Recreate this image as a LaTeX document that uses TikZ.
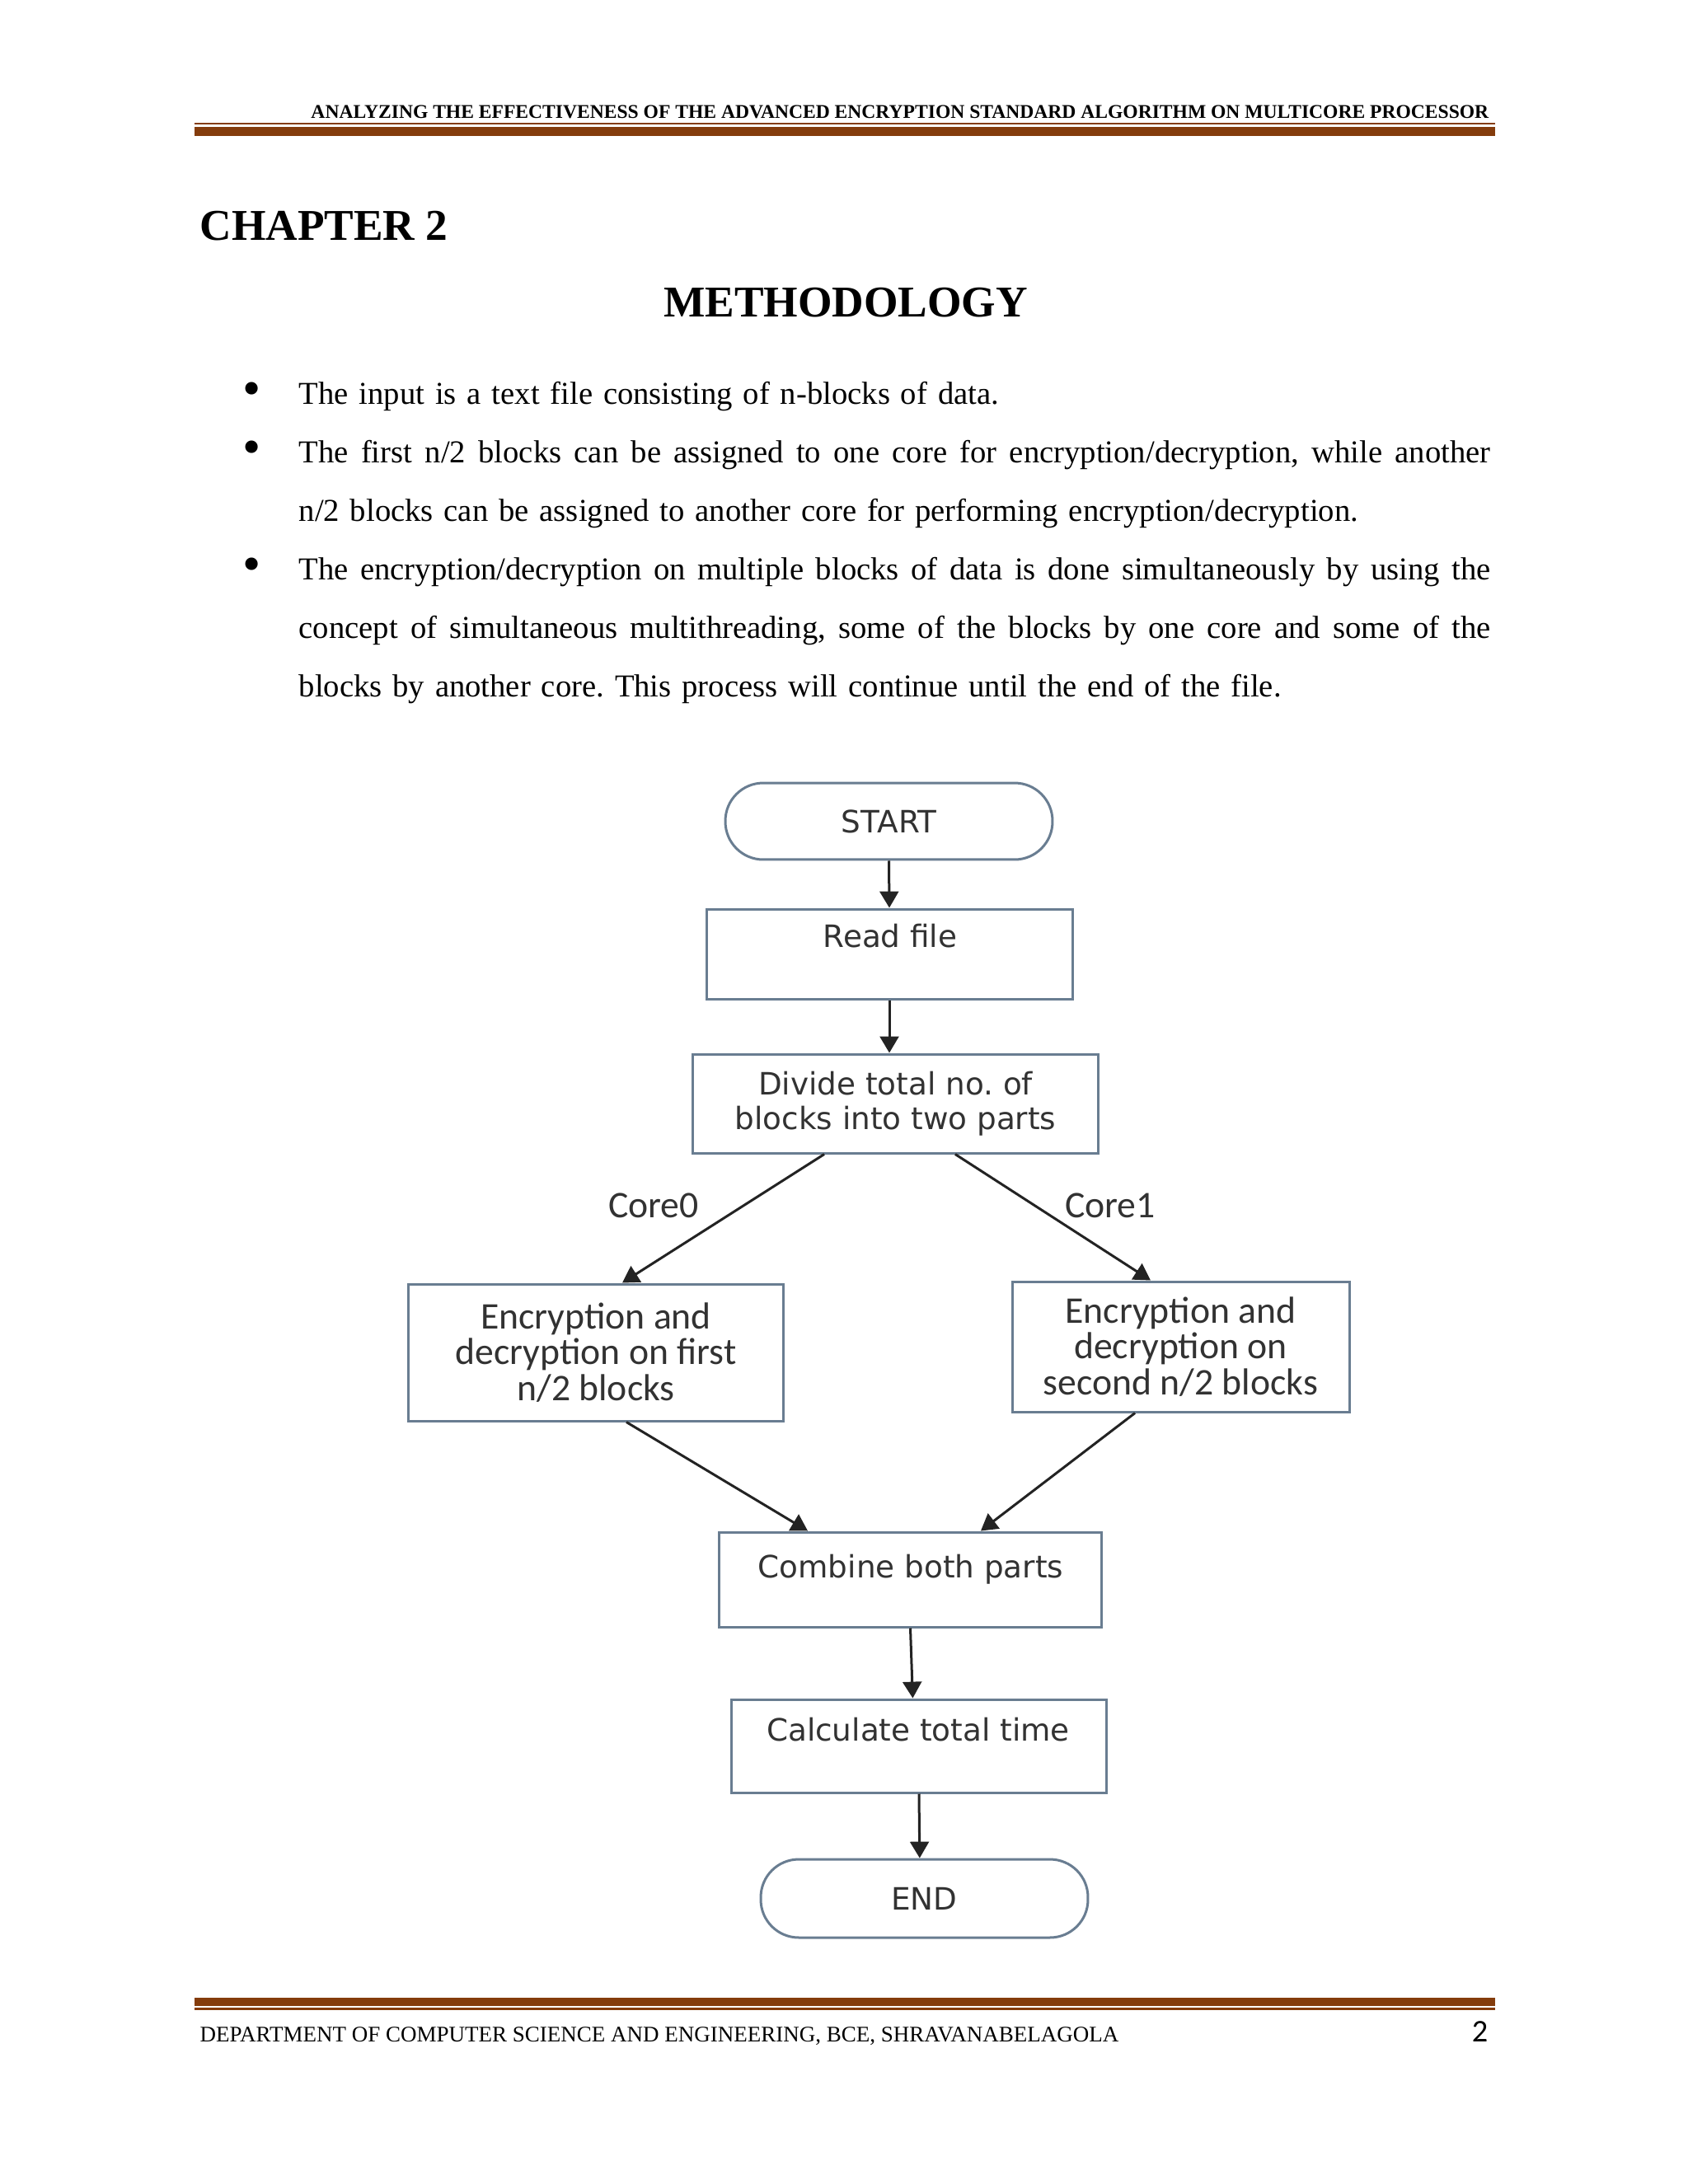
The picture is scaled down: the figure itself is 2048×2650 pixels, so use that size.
\documentclass[tikz,border=0pt]{standalone}
\usepackage{fontspec}
\setmainfont{Liberation Serif}
\newfontfamily\flowfont{DejaVu Sans}
\newfontfamily\calfont{Carlito}
\usepackage{tikz}
\usetikzlibrary{arrows.meta, positioning}

\definecolor{rulebrown}{RGB}{132,60,12}
\definecolor{boxedge}{RGB}{105,125,145}
\definecolor{arrowgray}{RGB}{35,35,35}
\definecolor{flowtext}{RGB}{50,50,50}

\newcommand{\fullline}[1]{\leavevmode\hbox to 15.244cm{\spaceskip=0.25em plus 1em minus 0.05em #1}}
\frenchspacing

\begin{document}
\begin{tikzpicture}[x=0.010542cm, y=-0.010542cm,
	box/.style={draw=boxedge, line width=0.9pt, fill=white, rectangle, inner sep=0pt},
	boxtxt/.style={font=\flowfont\fontsize{11.2}{12.6}\selectfont, text=flowtext, align=center, inner sep=0pt},
	coretxt/.style={font=\calfont\fontsize{13.7}{13.1}\selectfont, text=flowtext, align=center, inner sep=0pt},
	term/.style={box, boxtxt, rounded corners=0.485cm},
	flow/.style={draw=arrowgray, line width=0.9pt, -{Triangle[length=0.21cm, width=0.24cm]}},
	bodytxt/.style={font=\fontsize{11.6}{21.3}\selectfont, anchor=base west, inner sep=0pt, text width=15.244cm, align=left},
	dot/.style={font=\fontsize{19}{20}\selectfont, anchor=center, inner sep=0pt}]
	\useasboundingbox (0,0) rectangle (2048,2650);

	% Kopfzeile
	\fill[rulebrown] (236,149) rectangle (1814,151);
	\fill[rulebrown] (236,154) rectangle (1814,165);
	\node[anchor=base east, inner sep=0pt] (header) at (1807,143) {\resizebox{15.065cm}{!}{\bfseries ANALYZING THE EFFECTIVENESS OF THE ADVANCED ENCRYPTION STANDARD ALGORITHM ON MULTICORE PROCESSOR}};

	% Ueberschriften
	\node[anchor=base west, inner sep=0pt, font=\bfseries\fontsize{16}{19}\selectfont] (chapter) at (242,291) {CHAPTER 2};
	\node[anchor=base, inner sep=0pt, font=\bfseries\fontsize{16}{19}\selectfont] (method) at (1026,384) {METHODOLOGY};

	% Aufzaehlung
	\node[dot] (dot1) at (306,478) {\textbullet};
	\node[bodytxt] (item1) at (362,490) {The input is a text file consisting of n-blocks of data.};
	\node[dot] (dot2) at (306,549) {\textbullet};
	\node[bodytxt] (item2) at (362,561) {\fullline{The first n/2 blocks can be assigned to one core for encryption/decryption, while another}\\
		n/2 blocks can be assigned to another core for performing encryption/decryption.};
	\node[dot] (dot3) at (306,691) {\textbullet};
	\node[bodytxt] (item3) at (362,703) {\fullline{The encryption/decryption on multiple blocks of data is done simultaneously by using the}\\
		\fullline{concept of simultaneous multithreading, some of the blocks by one core and some of the}\\
		blocks by another core. This process will continue until the end of the file.};

	% Ablaufplan
	\node[term, minimum width=4.185cm, minimum height=0.980cm] (start) at (1078.5,996.5) {START};
	\node[box, minimum width=4.681cm, minimum height=1.149cm] (read) at (1079,1157.5) {};
	\node[boxtxt] (readtxt) at (1080,1136) {Read file};
	\node[box, boxtxt, minimum width=5.197cm, minimum height=1.265cm] (divide) at (1086.5,1339) {Divide total no. of\\blocks into two parts};
	\node[box, coretxt, minimum width=4.807cm, minimum height=1.750cm] (enc0) at (723,1641) {Encryption and\\decryption on first\\n/2 blocks};
	\node[box, coretxt, minimum width=4.312cm, minimum height=1.666cm] (enc1) at (1432.5,1634) {Encryption and\\decryption on\\second n/2 blocks};
	\node[coretxt] (core0) at (793,1463) {Core0};
	\node[coretxt] (core1) at (1347,1463) {Core1};
	\node[box, minimum width=4.902cm, minimum height=1.212cm] (combine) at (1104.5,1916.5) {};
	\node[boxtxt] (combinetxt) at (1105,1904) {Combine both parts};
	\node[box, minimum width=4.807cm, minimum height=1.191cm] (calc) at (1115,2118.5) {};
	\node[boxtxt] (calctxt) at (1114,2099) {Calculate total time};
	\node[term, minimum width=4.185cm, minimum height=1.001cm] (stop) at (1121.5,2303.5) {END};

	\draw[flow] (start.south) -- (read.north);
	\draw[flow] (read.south) -- (read.south |- divide.north);
	\draw[flow] ([xshift=-0.912cm]divide.south) -- ([xshift=0.337cm]enc0.north);
	\draw[flow] ([xshift=0.764cm]divide.south) -- ([xshift=-0.385cm]enc1.north);
	\draw[flow] ([xshift=0.390cm]enc0.south) -- ([xshift=-1.312cm]combine.north);
	\draw[flow] ([xshift=-0.585cm]enc1.south) -- ([xshift=0.901cm]combine.north);
	\draw[flow] (combine.south) -- ([xshift=-0.08cm]calc.north);
	\draw[flow] (calc.south) -- ([xshift=-0.06cm]stop.north);

	% Fusszeile
	\fill[rulebrown] (236,2424) rectangle (1814,2434);
	\fill[rulebrown] (236,2436) rectangle (1814,2439);
	\node[anchor=base west, inner sep=0pt] (dept) at (242,2477) {\resizebox{11.754cm}{!}{DEPARTMENT OF COMPUTER SCIENCE AND ENGINEERING, BCE, SHRAVANABELAGOLA}};
	\node[anchor=base east, inner sep=0pt, font=\calfont\fontsize{11.5}{13}\selectfont] (pageno) at (1806,2477) {2};
\end{tikzpicture}
\end{document}
